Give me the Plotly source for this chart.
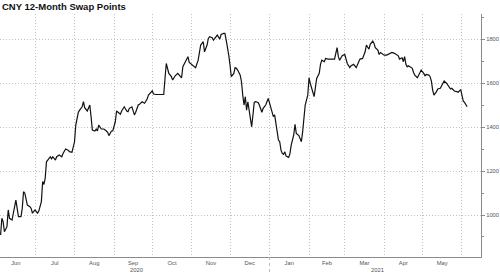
import plotly.graph_objects as go

title_text = "CNY 12-Month Swap Points"

dates = [
    "2020-06-04", "2020-06-05", "2020-06-06", "2020-06-07", "2020-06-09", "2020-06-10",
    "2020-06-11", "2020-06-13", "2020-06-14", "2020-06-16", "2020-06-18", "2020-06-20",
    "2020-06-21", "2020-06-22", "2020-06-23", "2020-06-25", "2020-06-27", "2020-06-28",
    "2020-06-29", "2020-06-30", "2020-07-01", "2020-07-03", "2020-07-04", "2020-07-06",
    "2020-07-07", "2020-07-08", "2020-07-09", "2020-07-10", "2020-07-11", "2020-07-13",
    "2020-07-14", "2020-07-15", "2020-07-17", "2020-07-18", "2020-07-20", "2020-07-22",
    "2020-07-23", "2020-07-25", "2020-07-27", "2020-07-28", "2020-07-30", "2020-08-01",
    "2020-08-02", "2020-08-04", "2020-08-05", "2020-08-07", "2020-08-08", "2020-08-09",
    "2020-08-11", "2020-08-12", "2020-08-13", "2020-08-14", "2020-08-15", "2020-08-17",
    "2020-08-18", "2020-08-19", "2020-08-20", "2020-08-22", "2020-08-24", "2020-08-26",
    "2020-08-27", "2020-08-28", "2020-08-30", "2020-08-31", "2020-09-02", "2020-09-03",
    "2020-09-04", "2020-09-06", "2020-09-07", "2020-09-09", "2020-09-11", "2020-09-12",
    "2020-09-13", "2020-09-15", "2020-09-17", "2020-09-18", "2020-09-20", "2020-09-21",
    "2020-09-23", "2020-09-25", "2020-09-27", "2020-09-28", "2020-10-01", "2020-10-02",
    "2020-10-04", "2020-10-07", "2020-10-10", "2020-10-11", "2020-10-12", "2020-10-14",
    "2020-10-16", "2020-10-17", "2020-10-19", "2020-10-21", "2020-10-23", "2020-10-24",
    "2020-10-25", "2020-10-27", "2020-10-29", "2020-10-30", "2020-11-01", "2020-11-03",
    "2020-11-04", "2020-11-06", "2020-11-08", "2020-11-10", "2020-11-11", "2020-11-13",
    "2020-11-14", "2020-11-15", "2020-11-17", "2020-11-18", "2020-11-21", "2020-11-23",
    "2020-11-24", "2020-11-26", "2020-11-27", "2020-11-28", "2020-11-29", "2020-11-30",
    "2020-12-01", "2020-12-02", "2020-12-04", "2020-12-05", "2020-12-06", "2020-12-07",
    "2020-12-09", "2020-12-10", "2020-12-11", "2020-12-12", "2020-12-13", "2020-12-14",
    "2020-12-15", "2020-12-17", "2020-12-18", "2020-12-19", "2020-12-20", "2020-12-21",
    "2020-12-23", "2020-12-24", "2020-12-26", "2020-12-27", "2020-12-29", "2020-12-31",
    "2021-01-01", "2021-01-03", "2021-01-04", "2021-01-05", "2021-01-06", "2021-01-07",
    "2021-01-08", "2021-01-09", "2021-01-10", "2021-01-11", "2021-01-12", "2021-01-13",
    "2021-01-14", "2021-01-16", "2021-01-17", "2021-01-18", "2021-01-20", "2021-01-21",
    "2021-01-22", "2021-01-24", "2021-01-25", "2021-01-26", "2021-01-27", "2021-01-28",
    "2021-01-29", "2021-01-31", "2021-02-01", "2021-02-02", "2021-02-04", "2021-02-05",
    "2021-02-07", "2021-02-08", "2021-02-09", "2021-02-10", "2021-02-11", "2021-02-13",
    "2021-02-14", "2021-02-16", "2021-02-17", "2021-02-19", "2021-02-21", "2021-02-23",
    "2021-02-24", "2021-02-25", "2021-02-27", "2021-03-01", "2021-03-02", "2021-03-03",
    "2021-03-05", "2021-03-06", "2021-03-08", "2021-03-10", "2021-03-12", "2021-03-13",
    "2021-03-15", "2021-03-17", "2021-03-18", "2021-03-20", "2021-03-21", "2021-03-23",
    "2021-03-24", "2021-03-25", "2021-03-27", "2021-03-28", "2021-03-29", "2021-03-30",
    "2021-04-01", "2021-04-03", "2021-04-05", "2021-04-07", "2021-04-09", "2021-04-11",
    "2021-04-12", "2021-04-13", "2021-04-15", "2021-04-16", "2021-04-17", "2021-04-18",
    "2021-04-19", "2021-04-20", "2021-04-21", "2021-04-23", "2021-04-24", "2021-04-25",
    "2021-04-27", "2021-04-28", "2021-04-29", "2021-04-30", "2021-05-02", "2021-05-03",
    "2021-05-04", "2021-05-06", "2021-05-07", "2021-05-08", "2021-05-09", "2021-05-10",
    "2021-05-12", "2021-05-13", "2021-05-15", "2021-05-17", "2021-05-18", "2021-05-20",
    "2021-05-21", "2021-05-23", "2021-05-24", "2021-05-26", "2021-05-28", "2021-05-29",
    "2021-05-31", "2021-06-01", "2021-06-02", "2021-06-03", "2021-06-05",
]

swap_points = [
    909, 985, 970, 924, 947, 1023,
    985, 977, 1008, 1068, 993, 993,
    1030, 1106, 1099, 1045, 1038, 1030,
    1008, 1018, 1023, 1008, 1018, 1061,
    1152, 1139, 1167, 1242, 1250, 1265,
    1255, 1265, 1250, 1265, 1273, 1265,
    1280, 1300, 1295, 1288, 1285, 1333,
    1409, 1467, 1477, 1492, 1515, 1488,
    1473, 1492, 1500, 1447, 1386, 1382,
    1391, 1382, 1409, 1391, 1391, 1382,
    1376, 1361, 1382, 1382, 1424, 1473,
    1467, 1458, 1473, 1492, 1473, 1470,
    1485, 1492, 1455, 1467, 1500, 1503,
    1515, 1508, 1527, 1545, 1564, 1550,
    1548, 1548, 1548, 1621, 1689, 1644,
    1629, 1614, 1633, 1644, 1629, 1624,
    1674, 1700, 1720, 1694, 1685, 1677,
    1670, 1704, 1773, 1788, 1742, 1773,
    1803, 1811, 1806, 1795, 1818, 1800,
    1821, 1826, 1826, 1795, 1765, 1727,
    1682, 1629, 1644, 1670, 1667, 1659,
    1636, 1606, 1545, 1500, 1538, 1477,
    1515, 1439, 1401, 1455, 1512, 1515,
    1512, 1500, 1467, 1485, 1500, 1530,
    1508, 1467, 1447, 1455, 1409, 1364,
    1341, 1333, 1295, 1280, 1276, 1287,
    1268, 1262, 1278, 1318, 1364, 1412,
    1371, 1361, 1349, 1333, 1379, 1447,
    1500, 1545, 1624, 1598, 1553, 1538,
    1621, 1636, 1644, 1685, 1704, 1697,
    1712, 1709, 1709, 1709, 1709, 1761,
    1720, 1704, 1724, 1730, 1712, 1689,
    1670, 1679, 1685, 1670, 1697, 1709,
    1712, 1742, 1773, 1754, 1776, 1791,
    1780, 1761, 1750, 1730, 1739, 1735,
    1727, 1727, 1735, 1739, 1735, 1727,
    1724, 1709, 1715, 1697, 1720, 1685,
    1674, 1679, 1674, 1667, 1648, 1636,
    1624, 1636, 1651, 1659, 1644, 1633,
    1639, 1636, 1629, 1609, 1568, 1545,
    1561, 1573, 1576, 1603, 1609, 1598,
    1588, 1573, 1576, 1564, 1561, 1558,
    1570, 1538, 1518, 1512, 1492,
]

y_ticks = [1000, 1200, 1400, 1600, 1800]
year_labels = ["2020", "2021"]
year_label_dates = ["2020-09-18 15:00", "2021-03-26 08:00"]
year_break = "2021-01-01"

label_font = dict(family="Liberation Sans, Arial, sans-serif", size=5.8, color="#555555")
grid_dash = "1px,2px"
grid_color = "#c2c2c2"

fig = go.Figure()
fig.add_trace(go.Scatter(
    x=dates, y=swap_points, mode="lines",
    line=dict(color="#111111", width=1.2),
    hoverinfo="skip", showlegend=False,
))

fig.update_layout(
    width=500, height=277,
    margin=dict(l=0, r=19, t=14, b=20),
    paper_bgcolor="white", plot_bgcolor="white",
    title=dict(
        text="<b>" + title_text + "</b>",
        x=0.004, xref="container", xanchor="left",
        y=0.975, yref="container", yanchor="middle",
        font=dict(family="Liberation Sans, Arial, sans-serif", size=9.5, color="#111111"),
    ),
    xaxis=dict(
        type="date",
        range=["2020-06-03 13:00", "2021-06-15 22:00"],
        tick0="2020-07-01", dtick="M1",
        tickformat="%b", ticklabelmode="period",
        showgrid=True, gridcolor=grid_color, griddash=grid_dash, gridwidth=1,
        showline=True, linecolor="#8a8a8a", linewidth=1,
        ticks="", ticklen=0,
        tickfont=label_font,
        zeroline=False,
    ),
    yaxis=dict(
        side="right",
        range=[809, 1914],
        tickvals=y_ticks,
        showgrid=True, gridcolor=grid_color, griddash=grid_dash, gridwidth=1,
        showline=True, linecolor="#8a8a8a", linewidth=1,
        ticks="outside", ticklen=3, tickcolor="#8a8a8a",
        minor=dict(dtick=100, tick0=0, ticks="outside", ticklen=2, tickcolor="#8a8a8a", showgrid=False),
        tickfont=label_font,
        zeroline=False,
    ),
)

for lbl, xd in zip(year_labels, year_label_dates):
    fig.add_annotation(
        x=xd, xref="x", y=-0.054, yref="paper",
        text=lbl, showarrow=False, yanchor="middle",
        font=label_font,
    )

fig.add_shape(
    type="line", xref="x", yref="paper",
    x0=year_break, x1=year_break, y0=0, y1=-0.075,
    line=dict(color="#bbbbbb", width=1, dash="dot"),
)

fig.write_html("out.html")
